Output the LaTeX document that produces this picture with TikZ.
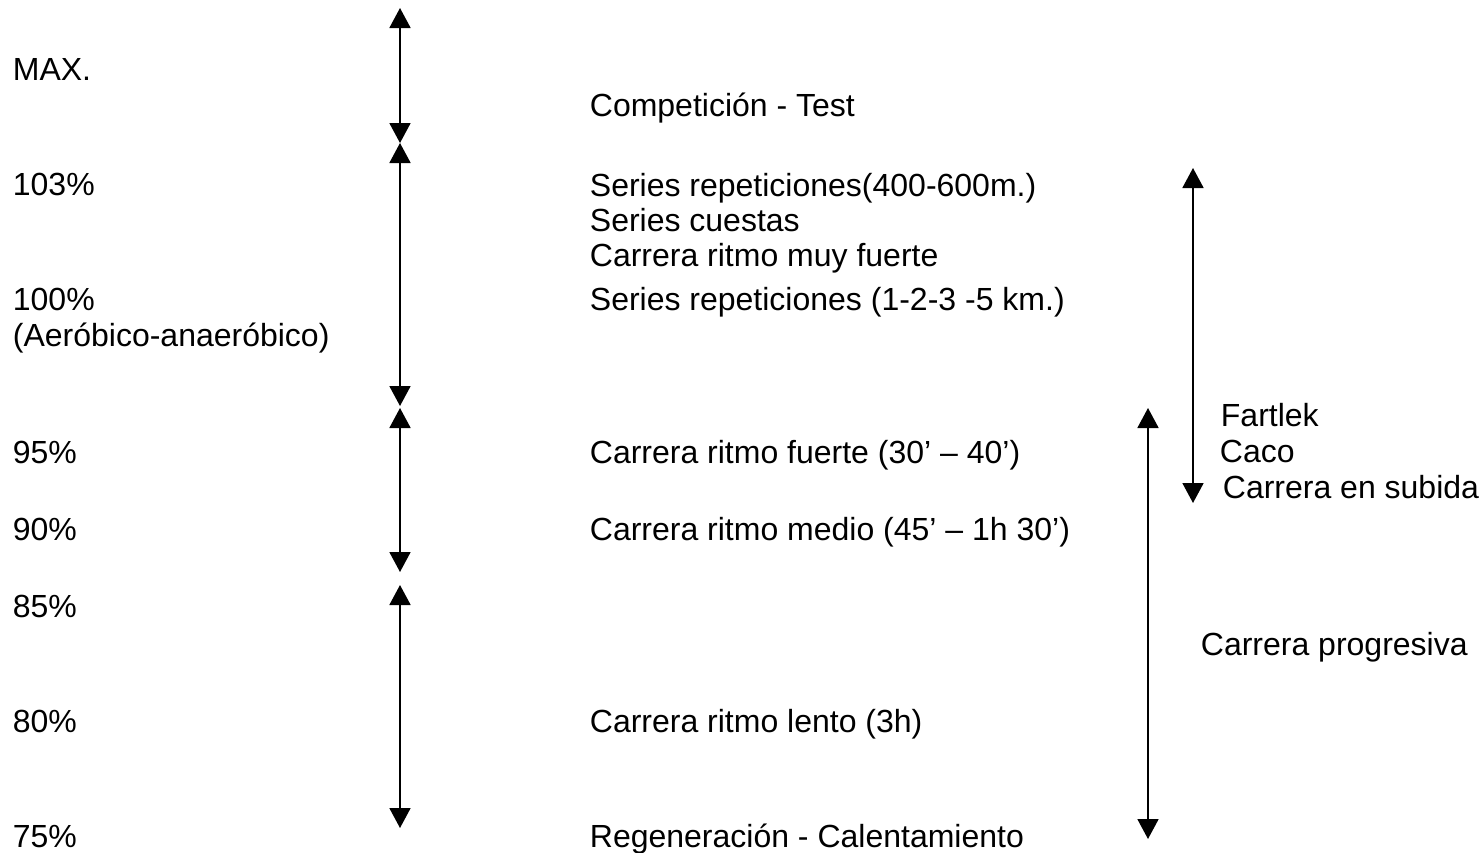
\documentclass[tikz,border=0pt]{standalone}
\usepackage{fontspec}
\setmainfont{Liberation Sans}
\usetikzlibrary{arrows.meta}

\begin{document}
\begin{tikzpicture}[x=1pt, y=-1pt, <->, line width=1.8pt]
			\tikzset{
			    >={Triangle[width=21pt, length=20pt]},
			    lbl/.style= {anchor=base west, inner sep=0pt, font=\fontsize{32}{34}\selectfont},
			}
			\useasboundingbox (0, 0) rectangle (1484, 852);
			
			% left column
			\node[lbl] (max) at (12, 80) {MAX.};
			\node[lbl] (p103) at (12, 195) {103\%};
			\node[lbl] (p100) at (12, 310) {100\%};
			\node[lbl] (aer) at (12, 346) {(Aeróbico-anaeróbico)};
			\node[lbl] (p95) at (12, 463) {95\%};
			\node[lbl] (p90) at (12, 540) {90\%};
			\node[lbl] (p85) at (12, 617) {85\%};
			\node[lbl] (p80) at (12, 732) {80\%};
			\node[lbl] (p75) at (12, 847) {75\%};
			
			% middle column
			\node[lbl] (comp) at (589, 116) {Competición - Test};
			\node[lbl] (srep) at (589, 196) {Series repeticiones(400-600m.)};
			\node[lbl] (scue) at (589, 231) {Series cuestas};
			\node[lbl] (mfue) at (589, 266) {Carrera ritmo muy fuerte};
			\node[lbl] (skm) at (589, 310) {Series repeticiones (1-2-3 -5 km.)};
			\node[lbl] (fue) at (589, 463) {Carrera ritmo fuerte (30’ – 40’)};
			\node[lbl] (med) at (589, 540) {Carrera ritmo medio (45’ – 1h 30’)};
			\node[lbl] (len) at (589, 732) {Carrera ritmo lento (3h)};
			\node[lbl] (reg) at (589, 847) {Regeneración - Calentamiento};
			
			% right column
			\node[lbl] (fart) at (1220, 426) {Fartlek};
			\node[lbl] (caco) at (1219, 462) {Caco};
			\node[lbl] (subi) at (1222, 498) {Carrera en subida};
			\node[lbl] (prog) at (1200, 655) {Carrera progresiva};
			
			% arrow ends
			\coordinate (a1) at (400, 8);
			\coordinate (a2) at (400, 143);
			\coordinate (b1) at (400, 143);
			\coordinate (b2) at (400, 406);
			\coordinate (c1) at (400, 408);
			\coordinate (c2) at (400, 572);
			\coordinate (d1) at (400, 585);
			\coordinate (d2) at (400, 828);
			\coordinate (e1) at (1193, 168);
			\coordinate (e2) at (1193, 503);
			\coordinate (f1) at (1148, 408);
			\coordinate (f2) at (1148, 839);
			
			\draw (a1) -- (a2);
			\draw (b1) -- (b2);
			\draw (c1) -- (c2);
			\draw (d1) -- (d2);
			\draw (e1) -- (e2);
			\draw (f1) -- (f2);
		\end{tikzpicture}
\end{document}
